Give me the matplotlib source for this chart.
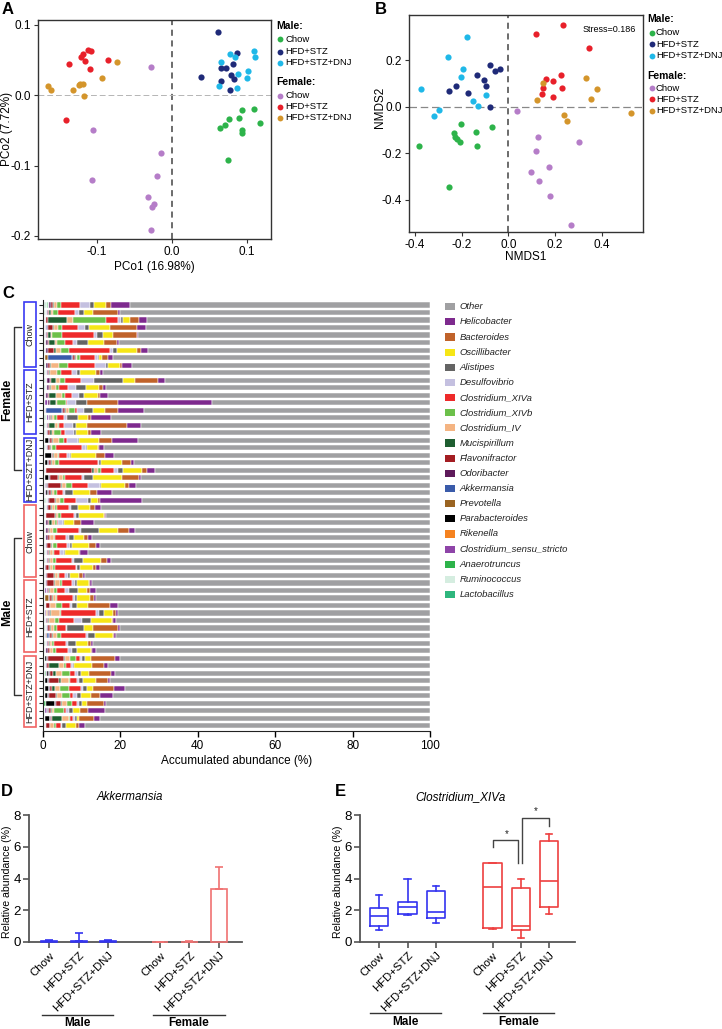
import matplotlib
matplotlib.use('Agg')
import matplotlib.pyplot as plt
from matplotlib.patches import Rectangle
from matplotlib.lines import Line2D
import numpy as np

plt.rcParams['font.family'] = ['Liberation Sans', 'DejaVu Sans']

# ---------------- data: panel A (PCoA) ----------------
a_m_chow_x = [.0938, .1098, .0769, .0898, .1178, .0711, .0644, .0933, .0942, .0756]
a_m_chow_y = [-.0203, -.0189, -.0336, -.0322, -.0397, -.0421, -.0468, -.0492, -.0539, -.0927]
a_m_hfd_x = [.0622, .0876, .0391, .0653, .0724, .0813, .0787, .0836, .0653, .0778]
a_m_hfd_y = [.0898, .0605, .0265, .0383, .0383, .0449, .0288, .0236, .0199, .0071]
a_m_dnj_x = [.0773, .0844, .0653, .1098, .1111, .1018, .0884, .1000, .0636, .0867]
a_m_dnj_y = [.0582, .0548, .0478, .0634, .0539, .0340, .0298, .0251, .0137, .0109]
a_f_chow_x = [-.0276, -.1053, -.0147, -.0191, -.1067, -.0311, -.0231, -.0267, -.0280]
a_f_chow_y = [.0407, -.0501, -.0827, -.1149, -.1210, -.1447, -.1546, -.1593, -.1915]
a_f_hfd_x = [-.1369, -.1204, -.1182, -.1151, -.1116, -.1080, -.1089, -.0844, -.1409]
a_f_hfd_y = [.0440, .0548, .0582, .0487, .0643, .0629, .0374, .0506, -.0355]
a_f_dnj_x = [-.0733, -.0933, -.1218, -.1178, -.1231, -.1644, -.1613, -.1320, -.1169]
a_f_dnj_y = [.0473, .0251, .0156, .0165, .0147, .0137, .0080, .0071, -.0009]

# ---------------- data: panel B (NMDS) ----------------
b_m_chow_x = [-.383, -.256, -.231, -.227, -.219, -.207, -.204, -.139, -.136, -.070]
b_m_chow_y = [-.169, -.346, -.111, -.130, -.140, -.151, -.073, -.107, -.169, -.087]
b_m_hfd_x = [-.256, -.223, -.171, -.136, -.103, -.096, -.077, -.059, -.034, -.079]
b_m_hfd_y = [.066, .089, .059, .134, .114, .087, .179, .153, .160, -.001]
b_m_dnj_x = [-.176, -.259, -.196, -.201, -.376, -.153, -.094, -.129, -.297, -.320]
b_m_dnj_y = [.297, .214, .161, .127, .074, .024, .050, .004, -.013, -.041]
b_f_chow_x = [.039, .129, .301, .119, .173, .099, .131, .177, .270]
b_f_chow_y = [-.019, -.130, -.150, -.190, -.257, -.281, -.319, -.381, -.507]
b_f_hfd_x = [.117, .233, .347, .161, .224, .147, .144, .190, .229, .193]
b_f_hfd_y = [.313, .350, .253, .117, .134, .079, .053, .110, .080, .040]
b_f_dnj_x = [.147, .121, .333, .379, .353, .239, .250, .526]
b_f_dnj_y = [.100, .027, .124, .074, .031, -.037, -.060, -.029]

group_names = ['Chow', 'HFD+STZ', 'HFD+STZ+DNJ']
group_colors = ['#2DB34A', '#1F2A78', '#1FB8E8', '#B57DC8', '#E8202A', '#D4952B']

# ---------------- data: panel C (genus composition, %) ----------------
legend_genera = ['Other', 'Helicobacter', 'Bacteroides', 'Oscillibacter', 'Alistipes',
                 'Desulfovibrio', 'Clostridium_XIVa', 'Clostridium_XIVb', 'Clostridium_IV',
                 'Mucispirillum', 'Flavonifractor', 'Odoribacter', 'Akkermansia', 'Prevotella',
                 'Parabacteroides', 'Rikenella', 'Clostridium_sensu_stricto', 'Anaerotruncus',
                 'Ruminococcus', 'Lactobacillus']
genus_colors = ['#A0A0A2', '#7E2A8E', '#C0622A', '#F6E616', '#646464',
                '#C4C0E0', '#EE2A2A', '#6CC04A', '#F4B482', '#1E5E30',
                '#A31D22', '#5E1A5A', '#3A5BAA', '#9A6421', '#000000',
                '#F58220', '#8E44A8', '#2DB34A', '#D5EDE0', '#2EB67D']

lactobacillus = [.3, .2, .2, .2, .2, .2, .2, .2, .2,
                 .2, .2, .2, .2, .2, .2, .2, .2, .2,
                 .2, .2, .2, .2, .2, .2, .2, .2, .2,
                 .2, .2, .2, .2, .2, .2, .2, .2, .2, .2,
                 .2, .2, .2, .2, .2, .2, .2, .2, .2, .2,
                 .2, .3, .2, .2, .2, .2, 0, .2, .2, .2]
ruminococcus = [.7, .5, .3, .4, .4, .3, .4, .2, .5,
                .5, .6, .5, .4, .4, .4, .9, .5, .5,
                .2, .5, .2, .2, .3, .2, .3, .3, .8,
                .5, .3, .4, .4, .4, .3, .5, .5, .2, .4,
                .4, .4, .2, .3, .3, .4, .5, .3, .5, .4,
                .2, .2, .2, .2, .2, .2, .2, .4, .2, .3]
anaerotruncus = [.2, 0, 0, 0, 0, 0, 0, 0, 0,
                 0, 0, 0, 0, 0, 0, 0, 0, 0,
                 0, 0, 0, 0, 0, 0, 0, 0, 0,
                 0, 0, 0, 0, 0, 0, 0, 0, 0, 0,
                 0, 0, 0, 0, 0, 0, 0, 0, 0, 0,
                 0, 0, .4, 0, 0, 0, .5, 0, 0, 0]
c_sensu_stricto = [.4, .3, .2, .3, .2, .3, .3, .2, .2,
                   .3, .2, .4, .3, .8, .2, .4, .3, .4,
                   .2, .3, .2, .2, .2, .2, .2, .2, .3,
                   .3, .2, .3, .3, .3, .2, .3, .3, .2, .2,
                   .2, .5, .2, .2, .2, .3, .3, .2, .3, .3,
                   .2, .2, .2, .2, .2, .2, .2, .4, .2, .2]
rikenella = [0, 0, 0, 0, 0, 0, 0, 0, 0,
             0, 0, 0, 0, 0, 0, 0, 0, 0,
             0, 0, 0, 0, 0, 0, 0, 0, 0,
             0, 0, 0, 0, 0, 0, 0, 0, 0, 0,
             0, 0, 0, 0, .3, 0, 0, 0, 0, 0,
             0, 0, 0, 0, 0, 0, 0, 0, 0, 0]
parabacteroides = [0, 0, 0, 0, 0, 0, 0, 0, 0,
                   0, 0, 0, 0, 0, 0, 0, 0, 0,
                   1.0, 0, 1.6, .7, 0, 1.0, .3, .7, 0,
                   0, 0, 0, 0, 0, 0, 0, 0, 0, 0,
                   0, 0, 0, 0, 0, 0, 0, 0, 0, 0,
                   .5, 0, .6, .7, 1.0, .6, 2.2, .3, 1.3, 0]
prevotella = [0, 0, 0, 0, 0, 0, 0, .6, 0,
              0, 0, 0, 0, 0, 0, 0, 0, 0,
              0, 0, 0, 0, 0, 0, 0, 0, 0,
              0, 0, 0, 0, 0, 0, 0, 0, 0, 0,
              0, 0, 1.0, 0, .3, 0, 0, .4, 0, 0,
              0, 0, 0, 0, 0, 0, 0, 0, 0, 0]
akkermansia = [0, 0, 0, .2, 0, 0, 0, 6.3, 0,
               0, 0, 0, 0, 0, 4.1, 0, 0, 0,
               0, 0, 0, 0, 0, 0, 0, 0, 0,
               0, 0, 0, 0, 0, 0, 0, 0, 0, 0,
               0, 0, 0, 0, 0, 0, 0, .4, 0, 0,
               0, 0, 0, 0, 0, 0, 0, 0, 0, 0]
odoribacter = [.4, .3, .2, .2, .2, .5, .3, .2, .3,
               .3, .8, .4, .3, .3, .2, .3, .2, .3,
               .2, .2, .2, .2, .2, .3, .2, .2, .3,
               .3, .2, .3, .3, .3, .3, .2, .3, .2, .2,
               .2, .2, .3, .2, .2, .2, .3, .2, .2, .3,
               .2, .3, .2, .3, .3, .3, .3, .3, .2, .2]
flavonifractor = [.5, .2, .5, 1.2, .3, .3, 1.6, .5, .5,
                  .3, .2, .2, .3, .2, .7, .2, .3, .3,
                  .5, .7, .2, .5, 11.8, 2.1, 3.4, .4, 1.4,
                  .8, 2.2, .3, .3, .5, 1.0, .3, .3, .8, 1.8,
                  1.8, .2, .5, .8, .4, .3, .5, .6, .4, .5,
                  4.0, .5, .7, 2.6, .4, 1.9, 1.3, .4, .3, .8]
mucispirillum = [.3, .5, 4.8, .3, .7, 1.6, .6, .2, .3,
                 .2, 1.4, .3, 1.8, 1.4, .2, .2, 1.5, .5,
                 .3, .2, .2, .3, .4, .2, .4, .4, .3,
                 .2, .2, .9, .2, .2, .2, .2, .2, .2, .4,
                 .2, .3, .2, .2, .2, .2, .2, .2, .2, .2,
                 .4, 2.7, .9, .4, .9, .3, .3, .3, 2.6, .2]
clostridium_iv = [.8, .6, 1.6, 1.0, .3, .3, 1.3, .4, 2.2,
                  1.8, 1.0, 1.4, 1.6, .3, .6, .6, .8, .6,
                  1.6, .3, 1.0, .8, 1.1, .9, 1.0, .5, 1.2,
                  .8, .6, .8, .9, .9, .5, .8, .7, .9, .6,
                  1.4, 1.0, .7, 1.4, 2.2, 1.4, .8, 1.0, .6, .7,
                  1.4, 1.1, 1.6, 2.0, 1.3, 1.3, 1.2, .6, 1.6, 1.0]
clostridium_xivb = [1.0, 1.3, 8.5, 1.1, 2.5, 2.2, 2.0, .8, 2.3,
                    1.1, 1.2, .7, .7, 2.4, 1.6, .9, .3, 1.8,
                    1.2, 1.0, .3, 1.0, .8, .7, 1.4, .8, 1.0,
                    .6, .7, .4, 1.0, .3, .9, .3, .9, .3, .4,
                    .5, .8, .2, 1.5, .3, 1.2, .8, 1.2, .5, .8,
                    1.4, .6, 2.0, .4, 2.2, 2.1, 1.3, 2.4, .5, .4]
clostridium_xiva = [4.9, 4.3, 3.1, 4.2, 8.3, 2.0, 10.5, 3.8, 7.0,
                    2.9, 4.2, 2.3, 1.8, .3, .6, 1.6, 1.2, 1.1,
                    .7, 6.7, 2.2, 10.0, 3.3, 4.4, 4.1, 1.4, 3.1,
                    2.9, 3.5, .4, 5.6, 2.9, 2.6, 1.7, 4.2, 5.4, 1.5,
                    2.5, 2.2, 4.3, 2.2, 9.2, 3.8, 2.3, 6.4, 3.1, 3.1,
                    1.0, 1.3, 1.2, 1.8, 3.2, .6, 1.3, .6, .7, 1.3]
desulfovibrio = [2.7, 1.1, .8, 1.7, .8, 1.0, 1.0, .8, 2.9,
                 1.2, 3.3, 2.2, 2.0, 2.1, 1.8, .9, 2.5, 2.3,
                 2.9, .9, .7, .3, 1.1, .4, 3.2, .6, 2.9,
                 .7, .4, 1.1, .5, .7, .9, .9, .4, .5, .7,
                 .8, 1.0, .4, .5, .7, 2.0, .4, .5, .5, .9,
                 .5, .5, .8, .6, .4, 1.0, .4, .8, .4, .4]
alistipes = [1.1, 1.3, .4, 1.1, 1.5, 2.9, 1.0, .3, .4,
             .7, 7.7, 2.4, 1.2, 2.9, 2.4, 2.9, .7, .5,
             .3, .3, .3, .7, 1.4, 2.2, .4, 2.1, .9,
             1.7, .7, .4, 4.8, 1.2, .5, .3, 2.4, .6, .7,
             .5, 2.3, .5, 1.4, 1.3, 2.4, 4.4, 1.8, 2.0, 1.3,
             .8, .2, .8, .9, 1.1, 1.2, .8, 1.1, .6, .9]
oscillibacter = [3.1, 2.4, 1.8, 5.5, 2.6, 4.2, 5.2, .8, 3.2,
                 4.2, 3.0, 3.4, 3.7, 0, 2.9, 2.6, 2.9, 3.2,
                 5.1, 2.9, 6.3, 5.4, 4.8, 7.6, 6.1, 4.4, 1.8,
                 3.1, 6.6, 2.5, 4.8, 2.7, 4.2, 3.5, 4.7, 3.4, 2.3,
                 3.1, 2.3, 3.4, 2.8, 2.4, 5.4, 2.3, 4.6, 3.1, 3.8,
                 1.7, 4.8, 2.2, 3.3, 1.6, 2.6, 1.4, 1.8, .6, 2.6]
bacteroides = [1.1, 6.4, 2.4, 7.0, 6.2, 3.4, 1.0, 1.4, .4,
               1.0, 5.8, 1.0, .4, 8.1, 3.4, .8, 10.3, .6,
               3.5, .3, 2.4, 2.3, 1.4, 4.5, 1.1, 1.8, .4,
               1.4, .3, 1.7, 2.8, 1.0, 1.8, .3, 1.5, .7, 1.0,
               .3, .7, 1.1, 5.5, .6, .2, 6.4, .4, .7, .2,
               6.1, 3.0, 5.7, 3.3, 5.4, 2.2, 4.4, 1.9, 3.9, .8]
helicobacter = [5.0, .5, 2.1, 2.2, .4, .5, 1.7, 1.5, 2.5,
                .8, 2.0, 1.0, 2.1, 24.2, 6.9, 5.0, 3.7, 2.6,
                6.6, 1.2, 2.4, .8, 2.0, .5, 1.7, 3.9, 10.9,
                1.4, .2, 3.4, 1.8, 1.0, 1.0, 2.1, 1.0, 1.1, .4,
                .6, 1.6, .4, 2.1, .7, .9, .5, .4, .5, 1.1,
                1.4, 1.2, 1.0, .4, 2.8, 3.3, .5, 4.6, 1.3, 1.6]

# stacking order from the axis outward (reverse of legend, Other last)
stack_values = [lactobacillus, ruminococcus, anaerotruncus, c_sensu_stricto, rikenella,
                parabacteroides, prevotella, akkermansia, odoribacter, flavonifractor,
                mucispirillum, clostridium_iv, clostridium_xivb, clostridium_xiva,
                desulfovibrio, alistipes, oscillibacter, bacteroides, helicobacter]
stack_colors = genus_colors[1:][::-1]

c_group_labels = ['Chow', 'HFD+STZ', 'HFD+SZT+DNJ', 'Chow', 'HFD+STZ', 'HFD+STZ+DNJ']
c_group_sizes = [9, 9, 9, 10, 10, 10]

# ---------------- data: panel D (Akkermansia) ----------------
d_labels = ['Chow', 'HFD+STZ', 'HFD+STZ+DNJ', 'Chow', 'HFD+STZ', 'HFD+STZ+DNJ']
d_pos = [0, 1, 2, 3.75, 4.75, 5.75]
d_mean = [0.05, 0.06, 0.06, 0.01, 0.03, 3.35]
d_err = [0.05, 0.49, 0.06, 0.01, 0.05, 1.40]

# ---------------- data: panel E (Clostridium_XIVa) ----------------
e_pos = [0, 1, 2, 4, 5, 6]
e_whislo = [0.76, 1.68, 1.18, 0.84, 0.23, 1.74]
e_q1 = [1.01, 1.74, 1.53, 0.90, 0.76, 2.22]
e_med = [1.64, 2.18, 1.91, 3.49, 1.03, 3.86]
e_q3 = [2.12, 2.54, 3.19, 4.95, 3.38, 6.38]
e_whishi = [2.98, 3.95, 3.53, 4.98, 3.95, 6.80]

male_col = '#3434F0'
female_col_d = '#F07272'
female_col_e = '#EE4040'

# ---------------- figure helpers ----------------
W, H = 722, 1029
fig = plt.figure(figsize=(W / 100, H / 100), dpi=100)


def add_ax(l, t, r, b):
    return fig.add_axes([l / W, 1 - b / H, (r - l) / W, (b - t) / H])


def ftext(x, y, s, **kw):
    kw.setdefault('ha', 'center')
    kw.setdefault('va', 'center')
    return fig.text(x / W, 1 - y / H, s, **kw)


def fline(xs, ys, **kw):
    fig.add_artist(Line2D([x / W for x in xs], [1 - y / H for y in ys],
                          transform=fig.transFigure, **kw))


def fdot(x, y, c):
    fig.add_artist(Line2D([x / W], [1 - y / H], transform=fig.transFigure, marker='o',
                          ms=4.2, color=c, ls='none', mec='none'))


def frect(x, y, w, h, **kw):
    fig.add_artist(Rectangle((x / W, 1 - (y + h) / H), w / W, h / H,
                             transform=fig.transFigure, **kw))


def scatter_legend(xm, xt, ys, title_x):
    ftext(title_x, ys[0], 'Male:', ha='left', fontsize=7.5, fontweight='bold')
    ftext(title_x, ys[4], 'Female:', ha='left', fontsize=7.5, fontweight='bold')
    yy = [ys[1], ys[2], ys[3], ys[5], ys[6], ys[7]]
    for i in range(6):
        fdot(xm, yy[i], group_colors[i])
        ftext(xt, yy[i], group_names[i % 3], ha='left', fontsize=6.8)


def style_scatter_axes(ax):
    for sp in ax.spines.values():
        sp.set_color('#333333')
        sp.set_linewidth(1.0)
    ax.tick_params(labelsize=8.5, length=3, width=0.8, color='#333333', pad=2)


# ---------------- Panel A ----------------
axA = add_ax(37.7, 20, 270.7, 238.7)
axA.set_xlim(-0.1787, 0.132)
axA.set_ylim(-0.204, 0.107)
axA.axvline(0, color='#444444', lw=1.1, ls=(0, (4, 3)), zorder=1)
axA.axhline(0, color='#b5b5b5', lw=0.7, ls=(0, (6, 3)), zorder=1)
a_x = [a_m_chow_x, a_m_hfd_x, a_m_dnj_x, a_f_chow_x, a_f_hfd_x, a_f_dnj_x]
a_y = [a_m_chow_y, a_m_hfd_y, a_m_dnj_y, a_f_chow_y, a_f_hfd_y, a_f_dnj_y]
for xs, ys, c in zip(a_x, a_y, group_colors):
    axA.scatter(xs, ys, s=20, color=c, lw=0, zorder=3)
axA.set_xticks([-0.1, 0.0, 0.1])
axA.set_xticklabels(['-0.1', '0.0', '0.1'])
axA.set_yticks([0.1, 0.0, -0.1, -0.2])
axA.set_yticklabels(['0.1', '0.0', '-0.1', '-0.2'])
style_scatter_axes(axA)
ftext(154, 267, 'PCo1 (16.98%)', fontsize=8.5)
ftext(7, 129, 'PCo2 (7.72%)', fontsize=8.5, rotation=90)
scatter_legend(280, 285, [26, 39.3, 51.7, 62.7, 82.3, 95.7, 106.7, 118], 276)
ftext(8, 9, 'A', fontsize=12, fontweight='bold')

# ---------------- Panel B ----------------
axB = add_ax(409, 15, 642.7, 232.3)
axB.set_xlim(-0.4257, 0.5757)
axB.set_ylim(-0.5386, 0.393)
axB.axvline(0, color='#444444', lw=1.1, ls=(0, (4, 3)), zorder=1)
axB.axhline(0, color='#888888', lw=0.9, ls=(0, (6, 3)), zorder=1)
b_x = [b_m_chow_x, b_m_hfd_x, b_m_dnj_x, b_f_chow_x, b_f_hfd_x, b_f_dnj_x]
b_y = [b_m_chow_y, b_m_hfd_y, b_m_dnj_y, b_f_chow_y, b_f_hfd_y, b_f_dnj_y]
for xs, ys, c in zip(b_x, b_y, group_colors):
    axB.scatter(xs, ys, s=20, color=c, lw=0, zorder=3)
axB.set_xticks([-0.4, -0.2, 0.0, 0.2, 0.4])
axB.set_xticklabels(['-0.4', '-0.2', '0.0', '0.2', '0.4'])
axB.set_yticks([0.2, 0.0, -0.2, -0.4])
axB.set_yticklabels(['0.2', '0.0', '-0.2', '-0.4'])
style_scatter_axes(axB)
axB.text(0.97, 0.955, 'Stress=0.186', transform=axB.transAxes, ha='right', va='top',
         fontsize=6.5)
ftext(525.6, 257, 'NMDS1', fontsize=8.5)
ftext(380, 107, 'NMDS2', fontsize=8.5, rotation=90)
scatter_legend(651.7, 656, [19.3, 32.7, 44.3, 56, 76, 88.3, 99.3, 110.7], 647)
ftext(381, 9, 'B', fontsize=12, fontweight='bold')

# ---------------- Panel C ----------------
n_rows = len(helicobacter)
rows = np.arange(n_rows)
row_top_px, row_step_px = 305.0, (725.7 - 305.0) / (n_rows - 1)
axC = add_ax(43, 300, 430, 730.7)
left = np.zeros(n_rows)
for vals, col in zip(stack_values, stack_colors):
    v = np.array(vals, dtype=float)
    axC.barh(rows, v, left=left, height=0.68, color=col, edgecolor='white', linewidth=0.35)
    left += v
axC.barh(rows, 100 - left, left=left, height=0.68, color=genus_colors[0],
         edgecolor='white', linewidth=0.35)
axC.set_xlim(0, 100)
axC.set_ylim(n_rows - 1 + 0.666, -0.666)
axC.set_yticks(rows)
axC.set_yticklabels([])
axC.set_xticks([0, 20, 40, 60, 80, 100])
axC.tick_params(axis='y', length=3, width=0.8, color='#222222')
axC.tick_params(axis='x', labelsize=8.5, length=4, width=1.0, pad=3)
axC.spines['top'].set_visible(False)
axC.spines['right'].set_visible(False)
axC.spines['left'].set_color('#222222')
axC.spines['bottom'].set_color('#222222')
axC.set_xlabel('Accumulated abundance (%)', fontsize=8.5, labelpad=2)

# legend of panel C
for i, (g, c) in enumerate(zip(legend_genera, genus_colors)):
    yc = 306.7 + i * 15.15
    frect(445, yc - 3.6, 10, 7.2, facecolor=c, edgecolor='none')
    ftext(459.5, yc, g, ha='left', fontsize=6.8, style='italic', color='#222222')

# group boxes
start = 0
for gi, (lab, n) in enumerate(zip(c_group_labels, c_group_sizes)):
    y0 = row_top_px + start * row_step_px - 2.5
    y1 = row_top_px + (start + n - 1) * row_step_px + 1.5
    col = '#3A3AF2' if gi < 3 else '#F06464'
    frect(24.3, y0, 11.4, y1 - y0, fill=False, edgecolor=col, linewidth=1.2)
    ftext(30.2, (y0 + y1) / 2, lab, rotation=90, fontsize=6.5, color='#222222')
    start += n

# sex brackets
for (ya, yb, yt, lab) in [(327, 470, 400, 'Female'), (538, 695, 612, 'Male')]:
    fline([20.7, 14.3, 14.3, 20.7], [ya, ya, yb, yb], color='#333333', lw=1.0)
    ftext(7.5, yt, lab, rotation=90, fontsize=8.8, fontweight='bold')
ftext(8, 294, 'C', fontsize=12, fontweight='bold')


# ---------------- Panels D and E ----------------
def style_bottom_axes(ax):
    for s in ['top', 'right']:
        ax.spines[s].set_visible(False)
    for s in ['left', 'bottom']:
        ax.spines[s].set_color('#555555')
        ax.spines[s].set_linewidth(1.3)
    ax.set_ylim(0, 8)
    ax.set_yticks([0, 2, 4, 6, 8])
    ax.tick_params(axis='y', labelsize=9.5, length=4, width=1.2, color='#555555', pad=2)
    ax.tick_params(axis='x', labelsize=8.2, length=4, width=1.2, color='#555555', pad=2)


axD = add_ax(29.3, 815, 241.7, 942)
axD.set_xlim(-0.68, 6.52)
for i in range(6):
    c = male_col if i < 3 else female_col_d
    axD.bar(d_pos[i], d_mean[i], width=0.55, fill=False, edgecolor=c, lw=1.2,
            zorder=4, clip_on=False)
    axD.errorbar(d_pos[i], d_mean[i], yerr=[[0], [d_err[i]]], fmt='none', ecolor=c,
                 elinewidth=1.2, capsize=2.8, capthick=1.2, zorder=4, clip_on=False)
style_bottom_axes(axD)
axD.set_xticks(d_pos)
axD.set_xticklabels(d_labels, rotation=45, ha='right', rotation_mode='anchor')
ftext(7, 882, 'Relative abundance (%)', fontsize=7.6, rotation=90)
ftext(130, 797, 'Akkermansia', fontsize=8.3, style='italic')
fline([41.7, 113.3], [1014.5, 1014.5], color='#333333', lw=1.0)
fline([153.3, 225], [1014.5, 1014.5], color='#333333', lw=1.0)
ftext(77.5, 1023, 'Male', fontsize=8.5, fontweight='bold')
ftext(189, 1023, 'Female', fontsize=8.5, fontweight='bold')
ftext(7, 791, 'D', fontsize=12, fontweight='bold')

axE = add_ax(360, 815, 575, 942)
axE.set_xlim(-0.68, 6.91)
stats = [dict(whislo=e_whislo[i], q1=e_q1[i], med=e_med[i], q3=e_q3[i],
              whishi=e_whishi[i], fliers=[]) for i in range(6)]
bp = axE.bxp(stats, positions=e_pos, widths=0.65, showfliers=False,
             capwidths=0.22, manage_ticks=False)
for i in range(6):
    c = male_col if i < 3 else female_col_e
    bp['boxes'][i].set(color=c, linewidth=1.2)
    bp['medians'][i].set(color=c, linewidth=1.2)
    for k in (2 * i, 2 * i + 1):
        bp['whiskers'][k].set(color=c, linewidth=1.2)
        bp['caps'][k].set(color=c, linewidth=1.2)
style_bottom_axes(axE)
axE.set_xticks(e_pos)
axE.set_xticklabels(d_labels, rotation=45, ha='right', rotation_mode='anchor')
ftext(338, 882, 'Relative abundance (%)', fontsize=7.6, rotation=90)

# significance brackets (Female Chow vs HFD+STZ, HFD+STZ vs HFD+STZ+DNJ)
br_col = '#444444'
leg_mid = e_whishi[4] + 1.05
b1_top = 6.43
axE.plot([e_pos[3], e_pos[3], e_pos[4] - 0.09, e_pos[4] - 0.09],
         [e_whishi[3] + 1.0, b1_top, b1_top, leg_mid], color=br_col, lw=1.0, clip_on=False)
axE.text((e_pos[3] + e_pos[4]) / 2, b1_top + 0.08, '*', ha='center', va='bottom',
         fontsize=7, color='#222222')
b2_top = 7.83
axE.plot([e_pos[4] + 0.05, e_pos[4] + 0.05, e_pos[5], e_pos[5]],
         [leg_mid, b2_top, b2_top, e_whishi[5] + 0.5], color=br_col, lw=1.0, clip_on=False)
axE.text((e_pos[4] + e_pos[5]) / 2 + 0.02, b2_top + 0.08, '*', ha='center', va='bottom',
         fontsize=7, color='#222222')

ftext(460, 797, 'Clostridium_XIVa', fontsize=8.5, style='italic')
fline([370, 441], [1013, 1013], color='#333333', lw=1.0)
fline([483.3, 554], [1013, 1013], color='#333333', lw=1.0)
ftext(405.5, 1022, 'Male', fontsize=8.5, fontweight='bold')
ftext(518.7, 1022, 'Female', fontsize=8.5, fontweight='bold')
ftext(340, 791, 'E', fontsize=12, fontweight='bold')

fig.savefig('out.png', dpi=100)
